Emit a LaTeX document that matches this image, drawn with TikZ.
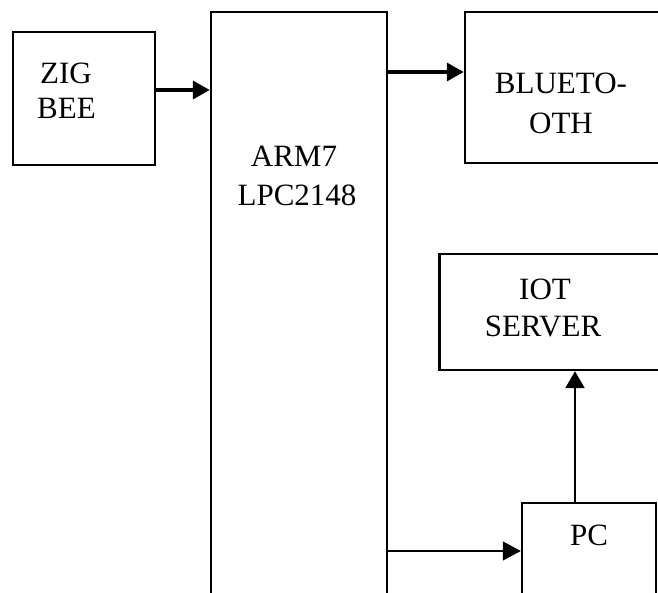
\documentclass[tikz,border=0pt]{standalone}
\usepackage{fontspec}
\setmainfont{Liberation Serif}
\usetikzlibrary{arrows.meta}
\begin{document}
\begin{tikzpicture}[x=1pt,y=-1pt,
  blk/.style={draw,line width=2.4pt,rectangle,inner sep=0pt},
  lbl/.style={anchor=base,inner sep=0pt,font=\fontsize{31}{36}\selectfont},
  thickarrow/.style={line width=3.6pt,-{Triangle[length=17pt,width=18pt]}},
  midarrow/.style={line width=2.6pt,-{Triangle[length=17pt,width=19pt]}},
  thinarrow/.style={line width=1.2pt,-{Triangle[length=18pt,width=19pt]}}]
\useasboundingbox (0,0) rectangle (658,592);
\clip (0,0) rectangle (658,592);
% boxes
\node[blk,minimum width=142pt,minimum height=133pt] (zig) at (84,98.5) {};
\node[blk,minimum width=176pt,minimum height=608pt] (arm) at (299,316) {};
\node[blk,minimum width=215pt,minimum height=151pt] (bt) at (572.5,87.5) {};
\node[blk,minimum width=240pt,minimum height=116pt] (iot) at (559.5,312) {};
\node[blk,minimum width=134pt,minimum height=117pt] (pc) at (589,561.5) {};
% labels
\node[lbl] (zigA) at (66,83) {ZIG};
\node[lbl] (zigB) at (66.5,118) {BEE};
\node[lbl] (armA) at (294,166) {ARM7};
\node[lbl] (armB) at (297,205) {LPC2148};
\node[lbl] (btA) at (561,93) {BLUETO-};
\node[lbl] (btB) at (561,133) {OTH};
\node[lbl] (iotA) at (545,299) {IOT};
\node[lbl] (iotB) at (543,336) {SERVER};
\node[lbl] (pcA) at (589,545) {PC};
% connectors
\draw[thickarrow] (zig.east |- 0,90) -- (arm.west |- 0,90);
\draw[thickarrow] (arm.east |- 0,72) -- (bt.west |- 0,72);
\draw[thinarrow] (arm.east |- 0,551) -- (pc.west |- 0,551);
\draw[midarrow] (pc.north -| 575,0) -- (iot.south -| 575,0);
\end{tikzpicture}
\end{document}
